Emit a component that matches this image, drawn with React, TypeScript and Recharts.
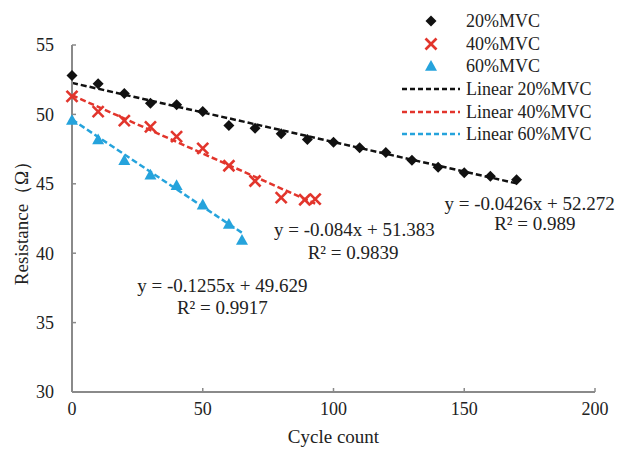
import React from 'react';
import { ComposedChart, Scatter, Line, XAxis, YAxis, Legend, ReferenceDot } from 'recharts';

const cycles20 = [0, 10, 20, 30, 40, 50, 60, 70, 80, 90, 100, 110, 120, 130, 140, 150, 160, 170];
const res20 = [52.8, 52.2, 51.5, 50.8, 50.7, 50.2, 49.2, 49.0, 48.6, 48.2, 48.0, 47.6, 47.25, 46.7, 46.2, 45.8, 45.55, 45.3];
const cycles40 = [0, 10, 20, 30, 40, 50, 60, 70, 80, 89, 93];
const res40 = [51.3, 50.2, 49.55, 49.1, 48.4, 47.55, 46.3, 45.2, 44.0, 43.85, 43.9];
const cycles60 = [0, 10, 20, 30, 40, 50, 60, 65];
const res60 = [49.6, 48.2, 46.7, 45.65, 44.9, 43.5, 42.1, 40.95];

const trend20X = [0, 170];
const trend20Y = [52.272, 45.03];
const trend40X = [0, 93];
const trend40Y = [51.383, 43.57];
const trend60X = [0, 65];
const trend60Y = [49.629, 41.47];

const xTicks = [0, 50, 100, 150, 200];
const yTicks = [30, 35, 40, 45, 50, 55];

const seriesNames = ['20%MVC', '40%MVC', '60%MVC', 'Linear 20%MVC', 'Linear 40%MVC', 'Linear 60%MVC'];

const BLACK = '#111111';
const RED = '#e2352c';
const BLUE = '#25a3dc';
const FONT = '"Liberation Serif", "Times New Roman", serif';

const zip = (xs: number[], ys: number[]) => xs.map((x, i) => ({ x, y: ys[i] }));
const d20 = zip(cycles20, res20);
const d40 = zip(cycles40, res40);
const d60 = zip(cycles60, res60);
const t20 = zip(trend20X, trend20Y);
const t40 = zip(trend40X, trend40Y);
const t60 = zip(trend60X, trend60Y);

const Diamond = (p: any) => {
  const { cx, cy } = p;
  const s = 5.5;
  return <polygon points={`${cx},${cy - s} ${cx + s},${cy} ${cx},${cy + s} ${cx - s},${cy}`} fill={BLACK} />;
};
const Cross = (p: any) => {
  const { cx, cy } = p;
  const s = 5.5;
  return (
    <g stroke={RED} strokeWidth={2.6}>
      <line x1={cx - s} y1={cy - s} x2={cx + s} y2={cy + s} />
      <line x1={cx - s} y1={cy + s} x2={cx + s} y2={cy - s} />
    </g>
  );
};
const Tri = (p: any) => {
  const { cx, cy } = p;
  const s = 6;
  return <polygon points={`${cx},${cy - s} ${cx + s},${cy + s * 0.8} ${cx - s},${cy + s * 0.8}`} fill={BLUE} />;
};

const XTick = (p: any) => {
  const { x, y, payload } = p;
  const axisY = y - 10;
  return (
    <g>
      <line x1={x} y1={axisY} x2={x} y2={axisY - 4} stroke="#8a8a8a" strokeWidth={1.5} />
      <text x={x} y={y} dy="0.71em" textAnchor="middle" fontFamily={FONT} fontSize={18} fill="#222">
        {payload.value}
      </text>
    </g>
  );
};
const YTick = (p: any) => {
  const { x, y, payload } = p;
  const axisX = x + 18;
  return (
    <g>
      <line x1={axisX} y1={y} x2={axisX + 4} y2={y} stroke="#8a8a8a" strokeWidth={1.5} />
      <text x={x} y={y} dy="0.355em" textAnchor="end" fontFamily={FONT} fontSize={18} fill="#222">
        {payload.value}
      </text>
    </g>
  );
};

const LegendContent = () => {
  const icons = [
    <polygon key="a" points="31,5.5 36.5,11 31,16.5 25.5,11" fill={BLACK} />,
    <g key="b" stroke={RED} strokeWidth={2.6}>
      <line x1={25.5} y1={5.5} x2={36.5} y2={16.5} />
      <line x1={25.5} y1={16.5} x2={36.5} y2={5.5} />
    </g>,
    <polygon key="c" points="31,5 37,15.8 25,15.8" fill={BLUE} />,
    <line key="d" x1={2} y1={11} x2={60} y2={11} stroke={BLACK} strokeWidth={2.5} strokeDasharray="5 3" />,
    <line key="e" x1={2} y1={11} x2={60} y2={11} stroke={RED} strokeWidth={2.5} strokeDasharray="5 3" />,
    <line key="f" x1={2} y1={11} x2={60} y2={11} stroke={BLUE} strokeWidth={2.5} strokeDasharray="5 3" />,
  ];
  return (
    <div style={{ fontFamily: FONT, fontSize: 18, color: '#222' }}>
      {seriesNames.map((n, i) => (
        <div key={n} style={{ display: 'flex', alignItems: 'center', height: 22.6 }}>
          <svg width={62} height={22} style={{ display: 'block' }}>{icons[i]}</svg>
          <span style={{ marginLeft: 4, whiteSpace: 'nowrap', lineHeight: '22px' }}>{n}</span>
        </div>
      ))}
    </div>
  );
};

const annStyle = { fontFamily: FONT, fontSize: 19, fill: '#222' };
const Ann = (text: string) => (props: any) => {
  const { viewBox } = props;
  const cx = viewBox.x + (viewBox.width || 0) / 2;
  const cy = viewBox.y + (viewBox.height || 0) / 2;
  return (
    <text x={cx} y={cy} dy="0.35em" textAnchor="middle" style={annStyle as any}>
      {text}
    </text>
  );
};

export default function App() {
  return (
    <div style={{ position: 'absolute', left: 0, top: 0, width: 624, height: 453, background: '#fff' }}>
      <ComposedChart width={624} height={453} margin={{ top: 45, right: 29, bottom: 0, left: 0 }}>
        <XAxis
          dataKey="x"
          type="number"
          domain={[0, 200]}
          ticks={xTicks}
          interval={0}
          tickSize={0}
          tickMargin={10}
          height={61}
          axisLine={{ stroke: '#8a8a8a', strokeWidth: 2 }}
          tick={<XTick />}
          label={{
            content: (p: any) => (
              <text x={p.viewBox.x + p.viewBox.width / 2} y={p.viewBox.y + 51} textAnchor="middle" fontFamily={FONT} fontSize={19} fill="#222">
                Cycle count
              </text>
            ),
          }}
        />
        <YAxis
          type="number"
          domain={[30, 55]}
          ticks={yTicks}
          interval={0}
          tickSize={0}
          tickMargin={18}
          width={72}
          axisLine={{ stroke: '#8a8a8a', strokeWidth: 2 }}
          tick={<YTick />}
          label={{
            content: (p: any) => {
              const x = p.viewBox.x + 21;
              const y = p.viewBox.y + p.viewBox.height / 2;
              return (
                <text x={x} y={y} dy="0.35em" textAnchor="middle" transform={`rotate(-90 ${x} ${y})`} fontFamily={FONT} fontSize={19} fill="#222">
                  Resistance（Ω）
                </text>
              );
            },
          }}
        />
        <Line data={t20} dataKey="y" stroke={BLACK} strokeWidth={2.5} strokeDasharray="6 3" dot={false} isAnimationActive={false} legendType="none" />
        <Line data={t40} dataKey="y" stroke={RED} strokeWidth={2.5} strokeDasharray="6 3" dot={false} isAnimationActive={false} legendType="none" />
        <Line data={t60} dataKey="y" stroke={BLUE} strokeWidth={2.5} strokeDasharray="6 3" dot={false} isAnimationActive={false} legendType="none" />
        <Scatter data={d20} dataKey="y" shape={<Diamond />} isAnimationActive={false} />
        <Scatter data={d40} dataKey="y" shape={<Cross />} isAnimationActive={false} />
        <Scatter data={d60} dataKey="y" shape={<Tri />} isAnimationActive={false} />
        <ReferenceDot x={175} y={43.62} r={0} ifOverflow="visible" label={{ content: Ann('y = -0.0426x + 52.272') }} />
        <ReferenceDot x={177} y={42.18} r={0} ifOverflow="visible" label={{ content: Ann('R² = 0.989') }} />
        <ReferenceDot x={108} y={41.74} r={0} ifOverflow="visible" label={{ content: Ann('y = -0.084x + 51.383') }} />
        <ReferenceDot x={107.5} y={40.09} r={0} ifOverflow="visible" label={{ content: Ann('R² = 0.9839') }} />
        <ReferenceDot x={57.5} y={37.71} r={0} ifOverflow="visible" label={{ content: Ann('y = -0.1255x + 49.629') }} />
        <ReferenceDot x={57.5} y={36.12} r={0} ifOverflow="visible" label={{ content: Ann('R² = 0.9917') }} />
        <Legend
          layout="horizontal"
          verticalAlign="middle"
          align="center"
          content={<LegendContent />}
          wrapperStyle={{ position: 'absolute', top: 10, left: 400, width: 224 }}
        />
      </ComposedChart>
    </div>
  );
}
